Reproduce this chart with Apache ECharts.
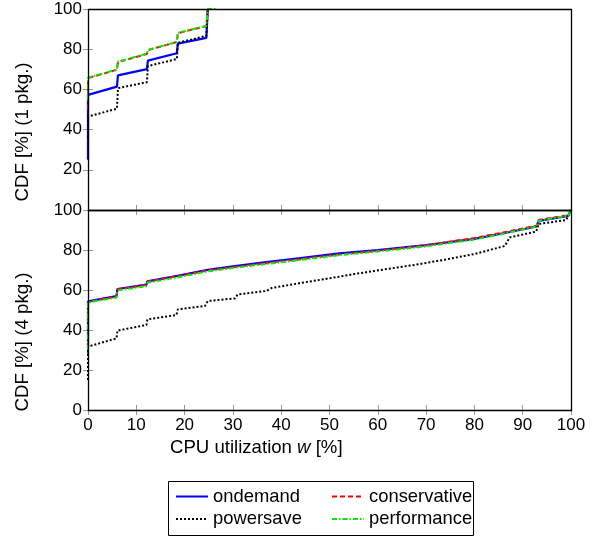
<!DOCTYPE html>
<html>
<head>
<meta charset="utf-8">
<script src="https://cdn.jsdelivr.net/npm/echarts@6/dist/echarts.min.js"></script>
<style>html,body{margin:0;padding:0;background:#fff;}#c{width:595px;height:538px;}</style>
</head>
<body>
<div id="c"></div>
<script>
// ---- data (CPU utilization w [%], CDF [%]) ----
const seriesNames = ['ondemand', 'conservative', 'powersave', 'performance'];
const xTicks = [0, 10, 20, 30, 40, 50, 60, 70, 80, 90, 100];
const yTicks = [0, 20, 40, 60, 80, 100];

// 1 package
const pkg1_ondemand = [[0,25],[0,57.3],[6,61.4],[6.2,67.0],[12.2,70.1],[12.4,74.3],[18.4,78],[18.6,82.8],[24.5,85.6],[24.8,100]];
const pkg1_conservative = [[0,50],[0,65.6],[6,69.8],[6.2,73.6],[12.2,77.6],[12.4,79.5],[18.4,83.6],[18.6,88],[24.5,91.5],[24.8,100]];
const pkg1_powersave = [[0,36],[0,46.5],[6,50.4],[6.2,60.6],[12.2,63.6],[12.4,71.6],[18.4,75.1],[18.6,83.2],[24.5,86.6],[24.8,100]];
const pkg1_performance = [[0,55],[0,65.8],[6,69.9],[6.2,73.8],[12.2,77.8],[12.4,79.7],[18.4,83.6],[18.6,88.1],[24.5,91.6],[24.8,100],[26.6,100]];

// 4 packages
const pkg4_ondemand = [[0,31],[0,54.3],[5.9,56.9],[6.1,60.5],[12.1,62.7],[12.3,64.3],[18.5,67.1],[18.7,67.7],[24.8,70.1],[25,70.5],[30,71.8],[36.9,73.9],[44,76],[52,78.3],[60,79.9],[70,82.4],[80,85.6],[87.3,89],[92.9,91.8],[93.3,94.6],[99.4,97],[100,100]];
const pkg4_conservative = [[0,28],[0,54],[5.9,56.7],[6.1,60.4],[12.1,62.5],[12.3,64.2],[18.5,66.9],[18.7,67.5],[24.8,69.8],[25,70.3],[30,71.4],[36.9,73.4],[44,75.4],[52,77.8],[60,79.6],[70,82.4],[80,86],[87.3,89.4],[92.9,92.2],[93.3,95],[99.4,97.4],[100,100]];
const pkg4_powersave = [[0,15],[0,31.7],[5.9,35.8],[6.1,39.7],[12.1,42.5],[12.3,45.3],[18.3,47.5],[18.6,50.3],[24.2,52],[24.8,54.5],[30.4,55.8],[31,57.8],[36.9,59.5],[38,61],[44,63.5],[52.1,66.7],[55.2,68],[61.4,70.3],[68,72.7],[74.2,75.3],[80,78],[86.3,82],[87.3,86.3],[92.8,89.2],[93.3,93],[99,95],[100,100]];
const pkg4_performance = [[0,30],[0,53.8],[5.9,56.2],[6.1,59.8],[12.1,61.9],[12.3,63.6],[18.5,66.3],[18.7,66.9],[24.8,69.3],[25,69.8],[30,71],[36.9,73],[44,75],[52,77.4],[60,79.2],[70,81.8],[80,85.2],[87.3,88.8],[92.9,91.8],[93.3,94.6],[99.4,97.2],[100,100]];

const yName1 = 'CDF [%] (1 pkg.)';
const yName4 = 'CDF [%] (4 pkg.)';

// ---- styles ----
const FONT = '"Liberation Sans", Arial, Helvetica, sans-serif';
const styles = {
  ondemand: {color: '#0000ff', width: 2.2, type: 'solid'},
  conservative: {color: '#ff0000', width: 2, type: [5, 3]},
  powersave: {color: '#000000', width: 2, type: [2, 2]},
  performance: {color: '#00ee00', width: 2, type: [5, 2, 1.5, 2]}
};
const dataByPanel = [
  {ondemand: pkg1_ondemand, conservative: pkg1_conservative, powersave: pkg1_powersave, performance: pkg1_performance},
  {ondemand: pkg4_ondemand, conservative: pkg4_conservative, powersave: pkg4_powersave, performance: pkg4_performance}
];

const G = {left: 88, width: 483};
const grids = [
  {left: G.left, top: 9, width: G.width, height: 201},
  {left: G.left, top: 210, width: G.width, height: 200}
];
const tick = {show: true, inside: true, length: 5, lineStyle: {color: '#999', width: 1}};

function xAx(gi, pos, labels) {
  return {type: 'value', gridIndex: gi, position: pos, min: 0, max: 100, interval: 10,
    axisLine: {show: false}, axisTick: tick, splitLine: {show: false},
    axisLabel: {show: labels, margin: 7, color: '#000', fontSize: 17, fontFamily: FONT}};
}
function yAx(gi, pos, labels, hideZero) {
  return {type: 'value', gridIndex: gi, position: pos, min: 0, max: 100, interval: 20,
    axisLine: {show: false}, axisTick: tick, splitLine: {show: false},
    axisLabel: {show: labels, margin: 6, color: '#000', fontSize: 17, fontFamily: FONT,
      formatter: v => (hideZero && v === 0) ? '' : String(v)}};
}

const series = [];
dataByPanel.forEach((d, gi) => {
  seriesNames.forEach(n => {
    series.push({name: n, type: 'line', xAxisIndex: gi * 2, yAxisIndex: gi * 2,
      data: d[n], showSymbol: false, symbol: 'none', animation: false,
      lineStyle: styles[n], itemStyle: {color: styles[n].color}, clip: true});
  });
});

const legendBase = {orient: 'vertical', padding: 0, itemWidth: 32, itemHeight: 10, itemGap: 4.4,
  textStyle: {fontSize: 18.4, fontFamily: FONT, color: '#000'}, selectedMode: false,
  itemStyle: {opacity: 0}};

const chart = echarts.init(document.getElementById('c'), null, {renderer: 'canvas'});
chart.setOption({
  animation: false,
  backgroundColor: '#fff',
  grid: grids,
  xAxis: [xAx(0, 'bottom', false), xAx(0, 'top', false), xAx(1, 'bottom', true), xAx(1, 'top', false)],
  yAxis: [yAx(0, 'left', true, true), yAx(0, 'right', false), yAx(1, 'left', true, false), yAx(1, 'right', false)],
  legend: [
    Object.assign({}, legendBase, {left: 175, top: 487.5, data: ['ondemand', 'powersave']}),
    Object.assign({}, legendBase, {left: 331, top: 487.5, data: ['conservative', 'performance']})
  ],
  series: series,
  graphic: [
    {type: 'rect', z: 100, silent: true, shape: {x: 88.5, y: 9.5, width: 483, height: 201}, style: {fill: 'none', stroke: '#000', lineWidth: 1.3}},
    {type: 'rect', z: 100, silent: true, shape: {x: 88.5, y: 210.5, width: 483, height: 200}, style: {fill: 'none', stroke: '#000', lineWidth: 1.3}},
    {type: 'rect', z: 100, silent: true, shape: {x: 168.5, y: 481.5, width: 305, height: 54}, style: {fill: 'none', stroke: '#000', lineWidth: 1}},
    {type: 'text', z: 100, left: 170, top: 438, style: {text: '{a|CPU utilization }{b|w}{a| [%]}', rich: {
      a: {fontSize: 18.6, fontFamily: FONT, fill: '#000'}, b: {fontSize: 18.6, fontFamily: FONT, fontStyle: 'italic', fill: '#000'}}}},
    {type: 'text', z: 100, x: 23, y: 132, rotation: Math.PI / 2, style: {text: yName1, fontSize: 18.7, fontFamily: FONT, fill: '#000', align: 'center', verticalAlign: 'middle'}},
    {type: 'text', z: 100, x: 23, y: 342, rotation: Math.PI / 2, style: {text: yName4, fontSize: 18.7, fontFamily: FONT, fill: '#000', align: 'center', verticalAlign: 'middle'}}
  ]
});
</script>
</body>
</html>
